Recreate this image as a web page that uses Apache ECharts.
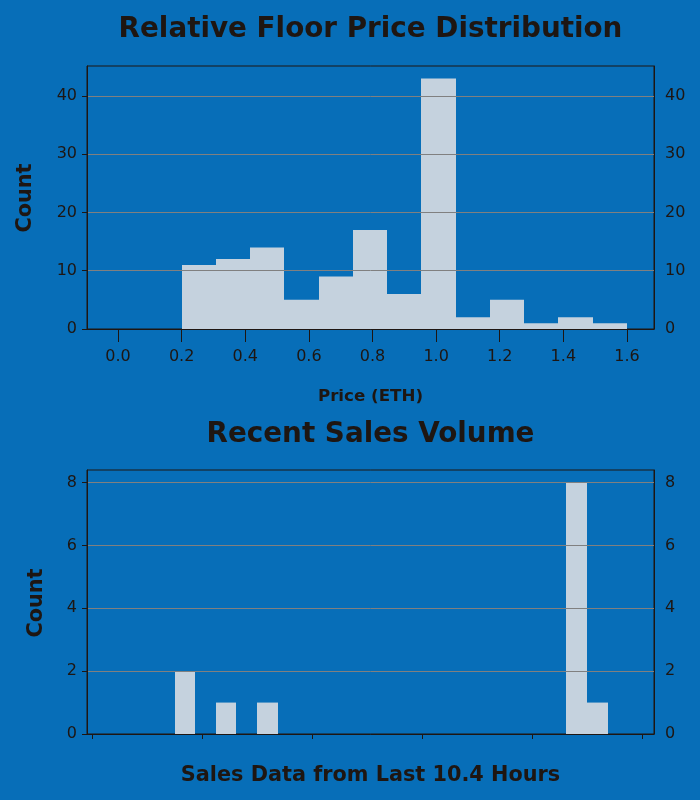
<!DOCTYPE html>
<html>
<head>
<meta charset="utf-8">
<script src="https://cdn.jsdelivr.net/npm/echarts@6/dist/echarts.min.js"></script>
<style>
html, body { margin: 0; padding: 0; background: #076eb8; }
#chart { width: 700px; height: 800px; }
</style>
</head>
<body>
<div id="chart"></div>
<script>
// relative floor price histogram (13 bins between 0.2 and 1.6 ETH)
const priceBinStart = 0.2;
const priceBinEnd = 1.6;
const priceCounts = [11, 12, 14, 5, 9, 17, 6, 43, 2, 5, 1, 2, 1];
const priceTicks = [0.0, 0.2, 0.4, 0.6, 0.8, 1.0, 1.2, 1.4, 1.6];
const priceCountTicks = [0, 10, 20, 30, 40];

// recent sales, hours since first sale (25 bins over 10.4 h)
const salesSpanHours = 10.4;
const salesCounts = [0, 0, 0, 2, 0, 1, 0, 1, 0, 0, 0, 0, 0, 0, 0, 0, 0, 0, 0, 0, 0, 0, 8, 1, 0];
const salesTickHours = [-0.42, 1.80, 4.02, 6.24, 8.46, 10.68];
const salesCountTicks = [0, 2, 4, 6, 8];

const bg = '#076eb8';
const ink = '#1e1612';
const barColor = '#c5d2de';
const gridGrey = '#808080';
const font = 'DejaVu Sans';
const tickSize = 16;

// turn counts into [left edge, right edge, count]
function toBins(counts, start, end) {
  const w = (end - start) / counts.length;
  const out = [];
  counts.forEach((c, i) => {
    if (c > 0) out.push([start + i * w, start + (i + 1) * w, c]);
  });
  return out;
}
const priceData = toBins(priceCounts, priceBinStart, priceBinEnd);
const salesData = toBins(salesCounts, 0, salesSpanHours);

function barItem(params, api) {
  const p0 = api.coord([api.value(0), api.value(2)]);
  const p1 = api.coord([api.value(1), 0]);
  // snap x edges so neighbouring bins meet without a seam
  const x0 = Math.round(p0[0]);
  const x1 = Math.round(p1[0]);
  return {
    type: 'rect',
    shape: { x: x0, y: p0[1], width: x1 - x0, height: p1[1] - p0[1] },
    style: { fill: barColor }
  };
}

function leftY(grid, max, ticks) {
  return {
    type: 'value', gridIndex: grid, position: 'left', min: 0, max: max, z: 3,
    axisLine: { show: true, onZero: false, lineStyle: { color: ink, width: 1 } },
    axisTick: { show: true, length: 5, customValues: ticks, lineStyle: { color: ink } },
    axisLabel: { customValues: ticks, margin: 10, color: ink, fontSize: tickSize, fontFamily: font },
    splitLine: { show: true, showMinLine: false, lineStyle: { color: gridGrey, width: 1 } }
  };
}
function rightY(grid, max, ticks) {
  return {
    type: 'value', gridIndex: grid, position: 'right', min: 0, max: max, z: 3,
    axisLine: { show: true, onZero: false, lineStyle: { color: ink, width: 1 } },
    axisTick: { show: false, customValues: ticks },
    axisLabel: { customValues: ticks, margin: 11, color: ink, fontSize: tickSize, fontFamily: font },
    splitLine: { show: false }
  };
}

function txt(text, x, y, size, rot) {
  return {
    type: 'text', x: x, y: y, rotation: rot || 0, z: 10,
    style: {
      text: text, x: 0, y: 0, fill: ink,
      font: 'bold ' + size + 'px "DejaVu Sans"',
      align: 'center', verticalAlign: 'middle',
      textAlign: 'center', textVerticalAlign: 'middle'
    }
  };
}

const chart = echarts.init(document.getElementById('chart'), null, { renderer: 'canvas' });

const option = {
  backgroundColor: bg,
  animation: false,
  grid: [
    { left: 87, right: 46, top: 66, height: 263, show: true, borderColor: ink, borderWidth: 1, backgroundColor: 'transparent' },
    { left: 87, right: 46, top: 470, height: 264, show: true, borderColor: ink, borderWidth: 1, backgroundColor: 'transparent' }
  ],
  xAxis: [
    {
      type: 'value', gridIndex: 0, min: -0.0975, max: 1.685, z: 4,
      axisLine: { show: true, onZero: false, lineStyle: { color: ink, width: 1 } },
      axisTick: { show: true, length: 13, customValues: priceTicks, lineStyle: { color: ink } },
      axisLabel: {
        customValues: priceTicks, margin: 20, color: ink, fontSize: tickSize, fontFamily: font,
        formatter: v => v.toFixed(1)
      },
      splitLine: { show: false }
    },
    {
      type: 'value', gridIndex: 1, min: -0.52, max: 10.92, z: 4,
      axisLine: { show: true, onZero: false, lineStyle: { color: ink, width: 1 } },
      axisTick: { show: true, length: 5, customValues: salesTickHours, lineStyle: { color: ink } },
      axisLabel: { show: false },
      splitLine: { show: false }
    }
  ],
  yAxis: [
    leftY(0, 45.15, priceCountTicks),
    rightY(0, 45.15, priceCountTicks),
    leftY(1, 8.4, salesCountTicks),
    rightY(1, 8.4, salesCountTicks)
  ],
  series: [
    { type: 'custom', xAxisIndex: 0, yAxisIndex: 0, renderItem: barItem, encode: { x: [0, 1], y: 2 }, data: priceData },
    { type: 'custom', xAxisIndex: 1, yAxisIndex: 2, renderItem: barItem, encode: { x: [0, 1], y: 2 }, data: salesData }
  ],
  graphic: [
    txt('Relative Floor Price Distribution', 370.5, 30, 27.8),
    txt('Price (ETH)', 370.5, 397, 16.7),
    txt('Count', 26, 198, 20.8, Math.PI / 2),
    txt('Recent Sales Volume', 370.5, 435, 27.8),
    txt('Sales Data from Last 10.4 Hours', 370.5, 776, 20.8),
    txt('Count', 37, 603, 20.8, Math.PI / 2)
  ]
};

chart.setOption(option);
</script>
</body>
</html>
